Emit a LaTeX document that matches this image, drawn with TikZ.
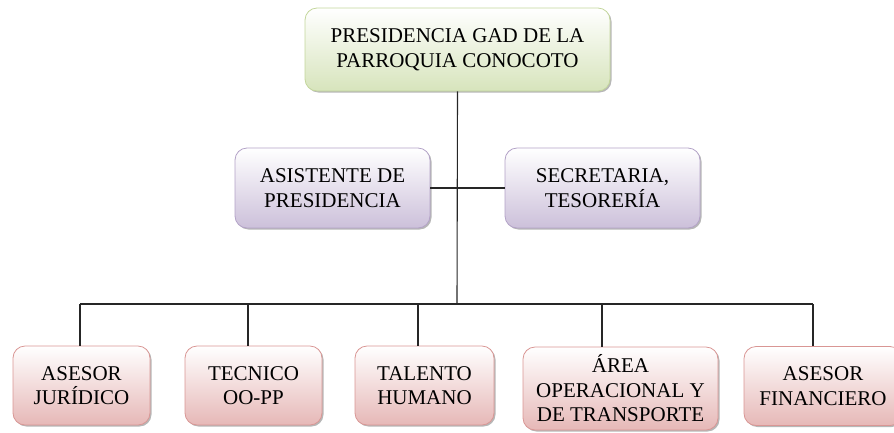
\documentclass[tikz,border=0pt]{standalone}
\usepackage{fontspec}
\setmainfont{Liberation Serif}
\usepackage{tikz}
\usetikzlibrary{shadows, positioning}
\usepackage{xcolor}
\definecolor{verdeF}{HTML}{D7E4BC}
\definecolor{verdeB}{HTML}{C3D69B}
\definecolor{lilaF}{HTML}{CCC0DA}
\definecolor{lilaB}{HTML}{B3A2C7}
\definecolor{rosaF}{HTML}{E6B8B7}
\definecolor{rosaB}{HTML}{D99694}

\tikzset{
  caja/.style={rounded corners=12pt, line width=0.8pt, align=center,
    font=\fontsize{21}{24.5}\selectfont, inner sep=2pt,
    drop shadow={shadow xshift=1.5pt, shadow yshift=-1.5pt, fill=gray!80, opacity=0.7}},
  cajaverde/.style={caja, draw=verdeB, top color=white, bottom color=verdeF},
  cajalila/.style={caja, draw=lilaB, top color=white, bottom color=lilaF},
  cajarosa/.style={caja, draw=rosaB, top color=white, bottom color=rosaF},
  linea/.style={line width=1.1pt, draw=black!85}
}

\begin{document}
\begin{tikzpicture}[x=1pt, y=-1pt]
\useasboundingbox (0,0) rectangle (894,432);

% presidencia
\node[cajaverde, minimum width=305pt, minimum height=83pt] (pres) at (457.5,49.5)
  {PRESIDENCIA GAD DE LA\\PARROQUIA CONOCOTO};

% apoyo
\node[cajalila, minimum width=195pt, minimum height=80pt] (asis) at (332.5,188)
  {ASISTENTE DE\\PRESIDENCIA};
\node[cajalila, minimum width=195pt, minimum height=80pt] (secr) at (602.5,188)
  {SECRETARIA,\\TESORERÍA};

% areas
\node[cajarosa, minimum width=137pt, minimum height=79pt] (jur) at (81.5,385.5)
  {ASESOR\\JURÍDICO};
\node[cajarosa, minimum width=137pt, minimum height=79pt] (tec) at (253.5,385.5)
  {TECNICO\\OO-PP};
\node[cajarosa, minimum width=139pt, minimum height=79pt] (tal) at (424.5,385.5)
  {TALENTO\\HUMANO};
\node[cajarosa, minimum width=195pt, minimum height=83pt] (area) at (620.5,388.5)
  {ÁREA\\OPERACIONAL Y\\DE TRANSPORTE};
\node[cajarosa, minimum width=158pt, minimum height=79pt] (fin) at (823,386)
  {ASESOR\\FINANCIERO};

% conectores
\coordinate (bus) at (457,304);
\coordinate (b1) at (80,304);
\coordinate (b2) at (248,304);
\coordinate (b3) at (418,304);
\coordinate (b4) at (602,304);
\coordinate (b5) at (813,304);

\draw[linea] (pres.south) -- (bus);
\draw[linea] (asis.east) -- (secr.west);
\draw[linea] (b1) -- (b5);
\draw[linea] (b1) -- (b1 |- jur.north);
\draw[linea] (b2) -- (b2 |- tec.north);
\draw[linea] (b3) -- (b3 |- tal.north);
\draw[linea] (b4) -- (b4 |- area.north);
\draw[linea] (b5) -- (b5 |- fin.north);
\end{tikzpicture}
\end{document}
